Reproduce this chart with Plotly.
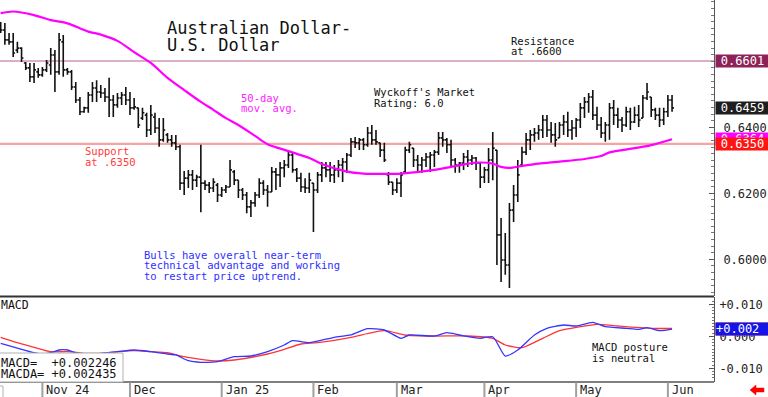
import plotly.graph_objects as go

# ---------------- data ----------------
opens = [0.6710,0.6695,0.6665,0.6659,0.6634,0.6640,0.6595,0.6580,0.6553,0.6568,
         0.6559,0.6574,0.6589,0.6619,0.6568,0.6659,0.6574,0.6568,0.6522,0.6483,
         0.6447,0.6459,0.6498,0.6519,0.6507,0.6504,0.6492,0.6483,0.6468,0.6489,
         0.6498,0.6483,0.6459,0.6459,0.6428,0.6437,0.6392,0.6431,0.6398,0.6362,
         0.6377,0.6362,0.6353,0.6341,0.6231,0.6246,0.6256,0.6240,0.6249,0.6231,
         0.6225,0.6216,0.6225,0.6195,0.6210,0.6219,0.6265,0.6240,0.6210,0.6195,
         0.6159,0.6171,0.6195,0.6231,0.6210,0.6204,0.6265,0.6256,0.6277,0.6286,
         0.6316,0.6271,0.6246,0.6219,0.6216,0.6231,0.6210,0.6256,0.6277,0.6271,
         0.6256,0.6271,0.6286,0.6295,0.6316,0.6356,0.6353,0.6362,0.6347,0.6383,
         0.6362,0.6353,0.6331,0.6256,0.6234,0.6210,0.6231,0.6265,0.6331,0.6337,
         0.6301,0.6286,0.6301,0.6310,0.6316,0.6325,0.6368,0.6362,0.6347,0.6301,
         0.6286,0.6292,0.6310,0.6301,0.6307,0.6292,0.6249,0.6271,0.6301,0.6331,
         0.6074,0.5998,0.5983,0.6149,0.6195,0.6286,0.6325,0.6362,0.6377,0.6383,
         0.6392,0.6422,0.6392,0.6377,0.6368,0.6407,0.6416,0.6392,0.6398,0.6422,
         0.6459,0.6477,0.6492,0.6437,0.6407,0.6383,0.6407,0.6459,0.6437,0.6422,
         0.6407,0.6447,0.6416,0.6437,0.6428,0.6489,0.6492,0.6453,0.6437,0.6422,
         0.6447,0.6483]
highs = [0.6719,0.6716,0.6686,0.6686,0.6659,0.6643,0.6598,0.6595,0.6595,0.6580,
         0.6583,0.6604,0.6640,0.6634,0.6686,0.6680,0.6580,0.6574,0.6537,0.6492,
         0.6462,0.6507,0.6537,0.6543,0.6528,0.6519,0.6550,0.6498,0.6504,0.6507,
         0.6522,0.6507,0.6489,0.6459,0.6459,0.6444,0.6468,0.6444,0.6428,0.6428,
         0.6383,0.6377,0.6377,0.6347,0.6268,0.6271,0.6271,0.6256,0.6347,0.6240,
         0.6234,0.6246,0.6231,0.6219,0.6225,0.6301,0.6271,0.6240,0.6216,0.6204,
         0.6180,0.6204,0.6246,0.6240,0.6225,0.6280,0.6277,0.6295,0.6301,0.6331,
         0.6322,0.6277,0.6262,0.6246,0.6262,0.6231,0.6265,0.6295,0.6295,0.6295,
         0.6286,0.6301,0.6307,0.6322,0.6368,0.6371,0.6368,0.6368,0.6401,0.6407,
         0.6392,0.6353,0.6353,0.6265,0.6234,0.6246,0.6265,0.6341,0.6356,0.6337,
         0.6316,0.6310,0.6322,0.6325,0.6331,0.6386,0.6386,0.6368,0.6362,0.6307,
         0.6295,0.6322,0.6331,0.6316,0.6310,0.6292,0.6280,0.6337,0.6386,0.6331,
         0.6125,0.6080,0.6171,0.6225,0.6301,0.6341,0.6383,0.6392,0.6398,0.6407,
         0.6437,0.6437,0.6416,0.6413,0.6416,0.6437,0.6447,0.6422,0.6428,0.6474,
         0.6492,0.6504,0.6513,0.6462,0.6431,0.6416,0.6474,0.6483,0.6459,0.6431,
         0.6462,0.6459,0.6462,0.6468,0.6498,0.6534,0.6492,0.6459,0.6459,0.6459,
         0.6498,0.6498]
lows = [0.6686,0.6650,0.6650,0.6613,0.6625,0.6598,0.6574,0.6537,0.6534,0.6550,
        0.6553,0.6568,0.6559,0.6507,0.6559,0.6553,0.6559,0.6513,0.6474,0.6437,
        0.6444,0.6444,0.6477,0.6477,0.6489,0.6477,0.6431,0.6431,0.6459,0.6468,
        0.6468,0.6437,0.6453,0.6398,0.6422,0.6371,0.6377,0.6383,0.6341,0.6356,
        0.6353,0.6341,0.6331,0.6210,0.6195,0.6216,0.6210,0.6219,0.6143,0.6210,
        0.6201,0.6204,0.6174,0.6189,0.6201,0.6219,0.6225,0.6186,0.6180,0.6140,
        0.6128,0.6159,0.6186,0.6195,0.6159,0.6204,0.6210,0.6219,0.6249,0.6277,
        0.6262,0.6234,0.6204,0.6201,0.6201,0.6083,0.6201,0.6234,0.6249,0.6234,
        0.6231,0.6249,0.6234,0.6262,0.6310,0.6337,0.6331,0.6331,0.6341,0.6347,
        0.6347,0.6310,0.6295,0.6225,0.6195,0.6201,0.6189,0.6262,0.6322,0.6280,
        0.6265,0.6262,0.6280,0.6265,0.6280,0.6316,0.6341,0.6322,0.6280,0.6262,
        0.6262,0.6271,0.6280,0.6286,0.6271,0.6216,0.6231,0.6231,0.6240,0.5983,
        0.5931,0.5953,0.5913,0.6113,0.6174,0.6280,0.6316,0.6331,0.6356,0.6362,
        0.6368,0.6371,0.6353,0.6341,0.6368,0.6377,0.6371,0.6362,0.6371,0.6398,
        0.6428,0.6444,0.6422,0.6392,0.6368,0.6356,0.6362,0.6407,0.6398,0.6386,
        0.6401,0.6392,0.6413,0.6401,0.6428,0.6483,0.6431,0.6422,0.6401,0.6407,
        0.6431,0.6447]
closes = [0.6695,0.6665,0.6659,0.6625,0.6640,0.6610,0.6580,0.6553,0.6574,0.6559,
          0.6574,0.6595,0.6619,0.6568,0.6665,0.6574,0.6568,0.6522,0.6483,0.6447,
          0.6459,0.6498,0.6519,0.6507,0.6504,0.6492,0.6483,0.6468,0.6489,0.6498,
          0.6483,0.6459,0.6462,0.6407,0.6444,0.6392,0.6437,0.6398,0.6362,0.6392,
          0.6362,0.6353,0.6341,0.6231,0.6246,0.6256,0.6240,0.6249,0.6231,0.6225,
          0.6216,0.6234,0.6195,0.6210,0.6219,0.6271,0.6240,0.6210,0.6195,0.6159,
          0.6171,0.6195,0.6231,0.6210,0.6204,0.6265,0.6256,0.6277,0.6286,0.6316,
          0.6271,0.6246,0.6219,0.6216,0.6240,0.6210,0.6256,0.6277,0.6271,0.6256,
          0.6271,0.6286,0.6295,0.6316,0.6356,0.6353,0.6362,0.6347,0.6383,0.6362,
          0.6356,0.6331,0.6301,0.6234,0.6210,0.6231,0.6256,0.6331,0.6347,0.6301,
          0.6286,0.6301,0.6310,0.6316,0.6325,0.6368,0.6362,0.6347,0.6301,0.6286,
          0.6292,0.6310,0.6301,0.6307,0.6292,0.6249,0.6271,0.6301,0.6337,0.6074,
          0.5998,0.5983,0.6149,0.6195,0.6256,0.6325,0.6362,0.6377,0.6383,0.6392,
          0.6422,0.6392,0.6377,0.6362,0.6407,0.6416,0.6392,0.6398,0.6422,0.6459,
          0.6477,0.6492,0.6437,0.6407,0.6383,0.6407,0.6459,0.6437,0.6422,0.6407,
          0.6447,0.6416,0.6437,0.6422,0.6489,0.6507,0.6453,0.6437,0.6422,0.6447,
          0.6483,0.6459]
bar_index = list(range(len(closes)))

# 50-day moving average, read at selected bars
ma_bars = [0, 3, 8, 12, 16, 21, 24, 28, 32, 36, 40, 44, 48, 51, 54, 57, 61, 64, 69, 74,
           77, 83, 87, 92, 96, 104, 108, 114, 118, 120, 122, 125, 129, 134, 140, 144,
           146, 152, 156, 161]
ma_vals = [0.6746, 0.6751, 0.6740, 0.6725, 0.6715, 0.6690, 0.6681, 0.6662, 0.6628, 0.6595,
           0.6550, 0.6513, 0.6477, 0.6453, 0.6428, 0.6407, 0.6374, 0.6349, 0.6328, 0.6307,
           0.6289, 0.6266, 0.6260, 0.6259, 0.6260, 0.6271, 0.6280, 0.6293, 0.6290, 0.6280,
           0.6277, 0.6283, 0.6290, 0.6296, 0.6304, 0.6313, 0.6324, 0.6337, 0.6346, 0.6364]

# MACD (blue) and its average (red), read at selected bars
macd_bars = [0, 4, 8, 10, 12, 14, 16, 18, 21, 24, 28, 32, 36, 40, 42, 45, 48, 52, 56, 60,
             64, 68, 70, 74, 80, 84, 88, 92, 96, 98, 104, 107, 110, 115, 118, 121, 124,
             128, 131, 135, 138, 142, 145, 150, 153, 155, 158, 161]
macd_vals = [-0.00219, -0.00366, -0.00513, -0.00553, -0.00513, -0.00428, -0.00428, -0.00513,
             -0.00584, -0.00531, -0.00481, -0.00428, -0.00481, -0.00553, -0.00584, -0.00763,
             -0.00813, -0.00794, -0.00638, -0.00616, -0.00481, -0.00272, -0.00138, -0.00200,
             -0.00031, 0.00041, 0.00238, 0.00197, -0.00063, 0.00041, 0.00009, 0.00113,
             0.00041, -0.00063, -0.00013, -0.00616, -0.00428, 0.00041, 0.00250, 0.00353,
             0.00322, 0.00438, 0.00300, 0.00250, 0.00219, 0.00269, 0.00175, 0.002246]
signal_bars = [0, 4, 8, 12, 16, 20, 24, 32, 36, 40, 44, 48, 52, 56, 64, 68, 72, 76, 84, 92,
               97, 104, 112, 118, 121, 125, 130, 134, 140, 143, 148, 156, 161]
signal_vals = [-0.00031, -0.00200, -0.00344, -0.00481, -0.00481, -0.00531, -0.00531, -0.00450,
               -0.00481, -0.00513, -0.00638, -0.00719, -0.00772, -0.00741, -0.00553, -0.00406,
               -0.00241, -0.00200, -0.00031, 0.00175, 0.00041, 0.00009, 0.00009, -0.00063,
               -0.00272, -0.00356, -0.00063, 0.00175, 0.00322, 0.00375, 0.00322, 0.00250,
               0.002435]

resistance_level = 0.6601
support_level = 0.6350

month_labels = ["Nov 24", "Dec", "Jan 25", "Feb", "Mar", "Apr", "May", "Jun"]
month_bars = [10, 31, 53, 75, 95, 116, 138, 160]

price_ticks = [0.60, 0.62, 0.64]
price_tick_text = ["0.6000", "0.6200", "0.6400"]
macd_ticks = [0.010, 0.0, -0.010]
macd_tick_text = ["+0.010", "0.000", "-0.010"]

# ---------------- layout helpers ----------------
W, H = 768, 397
PLOT_R = 714
def px(x):
    return x / W
def py(y):
    return 1 - y / H

MONO = "DejaVu Sans Mono"

fig = go.Figure()

fig.add_trace(go.Ohlc(
    x=bar_index, open=opens, high=highs, low=lows, close=closes,
    increasing=dict(line=dict(color="#111111", width=1.6)),
    decreasing=dict(line=dict(color="#111111", width=1.6)),
    tickwidth=0.45, hoverinfo="skip", showlegend=False,
    xaxis="x", yaxis="y"))

fig.add_trace(go.Scatter(
    x=ma_bars, y=ma_vals, mode="lines",
    line=dict(color="#FF00FF", width=2.2, shape="spline", smoothing=0.8),
    hoverinfo="skip", showlegend=False, xaxis="x", yaxis="y"))

fig.add_trace(go.Scatter(
    x=signal_bars, y=signal_vals, mode="lines",
    line=dict(color="#FF3535", width=1.3, shape="spline", smoothing=0.6),
    hoverinfo="skip", showlegend=False, xaxis="x2", yaxis="y2"))
fig.add_trace(go.Scatter(
    x=macd_bars, y=macd_vals, mode="lines",
    line=dict(color="#3535FF", width=1.3, shape="spline", smoothing=0.6),
    hoverinfo="skip", showlegend=False, xaxis="x2", yaxis="y2"))

xr = [-0.168, 171.06]
price_dom = [py(296), 1.0]
macd_dom = [py(382), py(297)]

fig.update_layout(
    width=W, height=H,
    margin=dict(l=0, r=0, t=0, b=0),
    paper_bgcolor="white", plot_bgcolor="white",
    showlegend=False,
    xaxis=dict(domain=[0, px(PLOT_R)], range=xr, anchor="y",
               showgrid=False, zeroline=False, showticklabels=False, ticks="",
               rangeslider=dict(visible=False), fixedrange=True),
    xaxis2=dict(domain=[0, px(PLOT_R)], range=xr, anchor="y2", matches="x",
                showgrid=False, zeroline=False, showticklabels=False, ticks="",
                rangeslider=dict(visible=False)),
    yaxis=dict(domain=price_dom, range=[0.58889, 0.67858], anchor="x", side="right",
               showgrid=False, zeroline=False, showline=True, linecolor="#555555",
               linewidth=1, tickvals=price_ticks, ticktext=price_tick_text,
               ticks="inside", ticklen=5, tickcolor="#555555",
               minor=dict(dtick=0.002, ticks="inside", ticklen=3, tickcolor="#777777"),
               tickfont=dict(family=MONO, size=12, color="#222222"),
               ticklabelstandoff=6),
    yaxis2=dict(domain=macd_dom, range=[-0.014281, 0.012281], anchor="x2", side="right",
                showgrid=False, zeroline=False, showline=True, linecolor="#555555",
                linewidth=1, tickvals=macd_ticks, ticktext=macd_tick_text,
                ticks="inside", ticklen=5, tickcolor="#555555",
                minor=dict(dtick=0.001, ticks="inside", ticklen=2, tickcolor="#777777"),
                tickfont=dict(family=MONO, size=12, color="#222222"),
                ticklabelstandoff=2),
)

shapes = []
# resistance and support lines
shapes.append(dict(type="line", xref="paper", yref="y", x0=0, x1=px(PLOT_R),
                   y0=resistance_level, y1=resistance_level,
                   line=dict(color="#B8608C", width=1.2), layer="below"))
shapes.append(dict(type="line", xref="paper", yref="y", x0=0, x1=px(PLOT_R),
                   y0=support_level, y1=support_level,
                   line=dict(color="#F6A3A3", width=2.2), layer="below"))
# panel separator and bottom line
shapes.append(dict(type="line", xref="paper", yref="paper", x0=0, x1=px(PLOT_R),
                   y0=py(296.5), y1=py(296.5), line=dict(color="#333333", width=2)))
shapes.append(dict(type="line", xref="paper", yref="paper", x0=0, x1=px(PLOT_R),
                   y0=py(382), y1=py(382), line=dict(color="#555555", width=1.5)))
# month tick bars
for b in month_bars:
    shapes.append(dict(type="line", xref="x", yref="paper", x0=b, x1=b,
                       y0=py(382.5), y1=0, line=dict(color="#A0A0A0", width=2)))
# MACD readout box
shapes.append(dict(type="rect", xref="paper", yref="paper", x0=-0.01, x1=px(123),
                   y0=py(382), y1=py(353), line=dict(color="#B0B0B0", width=1),
                   fillcolor="white", layer="above"))
shapes.append(dict(type="rect", xref="paper", yref="paper", x0=-0.01, x1=px(3),
                   y0=py(398), y1=py(386), line=dict(color="#B0B0B0", width=1),
                   fillcolor="white", layer="above"))
# red arrow at bottom right
pts = [(750, 390), (756, 385), (756, 388), (764, 388), (764, 392), (756, 392), (756, 395)]
path = "M " + " L ".join(f"{px(a):.5f},{py(b):.5f}" for a, b in pts) + " Z"
shapes.append(dict(type="path", xref="paper", yref="paper", path=path,
                   fillcolor="#FF0000", line=dict(color="#FF0000", width=0.5)))
fig.update_layout(shapes=shapes)

ann = []
def text(x, y, s, color="#111111", size=10.5, family=MONO):
    ann.append(dict(xref="paper", yref="paper", x=px(x), y=py(y), text=s,
                    showarrow=False, xanchor="left", yanchor="middle",
                    font=dict(family=family, size=size, color=color)))

text(165, 27.5, "Australian Dollar-", size=17)
text(165, 45, "U.S. Dollar", size=17)
text(509, 41, "Resistance")
text(509, 51.5, "at .6600")
text(372, 92.5, "Wyckoff's Market")
text(372, 103, "Rating: 6.0")
text(239, 97.5, "50-day", color="#FF22FF")
text(239, 108, "mov. avg.", color="#FF22FF")
text(83, 151, "Support", color="#FF3B3B")
text(83, 161.5, "at .6350", color="#FF3B3B")
text(141.5, 254.5, "Bulls have overall near-term", color="#2F2FFF")
text(141.5, 265, "technical advantage and working", color="#2F2FFF")
text(141.5, 275.5, "to restart price uptrend.", color="#2F2FFF")
text(590, 346.5, "MACD posture")
text(590, 357.5, "is neutral")
text(-1, 304.5, "MACD", size=11.5)
text(-1, 362.5, f"MACD=  {macd_vals[-1]:+.6f}", size=12)
text(-1, 374, f"MACDA= {signal_vals[-1]:+.6f}", size=12)

for lab, b in zip(month_labels, month_bars):
    ann.append(dict(xref="x", yref="paper", x=b, y=py(389.5), text=lab, showarrow=False,
                    xanchor="left", yanchor="middle", xshift=2,
                    font=dict(family=MONO, size=12, color="#222222")))

def value_box(yref, val, label, bg, align="center"):
    ann.append(dict(xref="paper", yref=yref, x=px(715), y=val, text=label,
                    showarrow=False, xanchor="left", yanchor="middle",
                    width=53, height=12, align=align, bgcolor=bg, borderpad=0,
                    font=dict(family=MONO, size=12, color="white")))

value_box("y", resistance_level, f"{resistance_level:.4f}", "#8E2157")
value_box("y", closes[-1], f"{closes[-1]:.4f}", "#1E1E1E")
value_box("y", ma_vals[-1], f"{ma_vals[-1]:.4f}", "#FF00FF")
value_box("y", support_level, f"{support_level:.4f}", "#FF1414")
value_box("y2", signal_vals[-1], f"{signal_vals[-1]:+.3f}", "#FF3030", align="left")
value_box("y2", macd_vals[-1], f"{macd_vals[-1]:+.3f}", "#1414E6", align="left")

fig.update_layout(annotations=ann)

fig.write_html("out.html",
               config={"displayModeBar": False},
               post_script=["document.body.style.margin='0';"
                            "document.body.style.overflow='hidden';"])
